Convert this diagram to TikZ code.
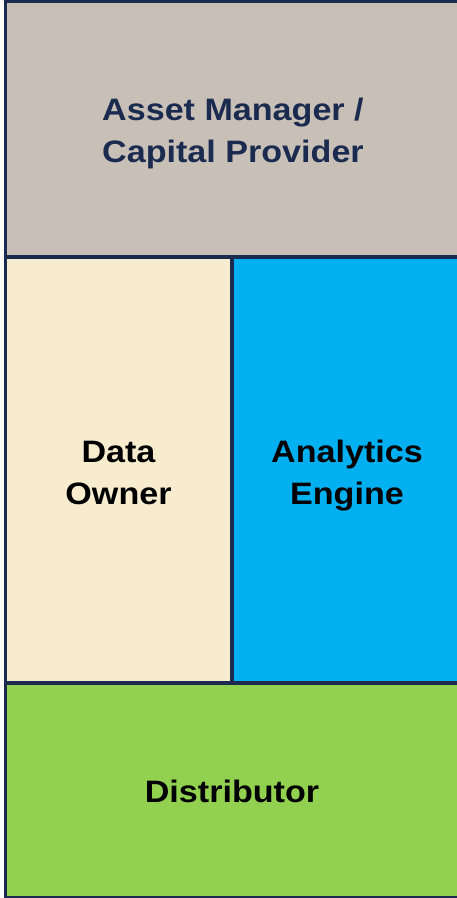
\documentclass[tikz,border=0pt]{standalone}
\usepackage{fontspec}
\setmainfont{Liberation Sans}[FakeStretch=1.1]
\definecolor{navy}{HTML}{1B2B50}
\definecolor{topgray}{HTML}{C8BFB6}
\definecolor{cream}{HTML}{F7EDCE}
\definecolor{skyblue}{HTML}{00B0F0}
\definecolor{lgreen}{HTML}{92D050}
\tikzset{
  panel/.style={draw=navy, line width=3.5pt},
  label/.style={align=center, font=\fontsize{31}{42}\selectfont\bfseries, inner sep=0pt, anchor=base}
}
\begin{document}
\begin{tikzpicture}[x=1pt,y=-1pt]
\useasboundingbox (0,0) rectangle (457,898);
\fill[white] (0,0) rectangle (457,898);
\path[panel, fill=topgray] (5.5,1.5) rectangle (462,257);
\path[panel, fill=cream] (5.5,257) rectangle (232,683);
\path[panel, fill=skyblue] (232,257) rectangle (462,683);
\path[panel, fill=lgreen] (5.5,683) rectangle (462,898);
\node[label, text=navy] (am) at (233,162.5) {Asset Manager /\\Capital Provider};
\node[label] (do) at (118.5,504) {Data\\Owner};
\node[label] (ae) at (347,504) {Analytics\\Engine};
\node[label] (di) at (232,802) {Distributor};
\end{tikzpicture}
\end{document}
